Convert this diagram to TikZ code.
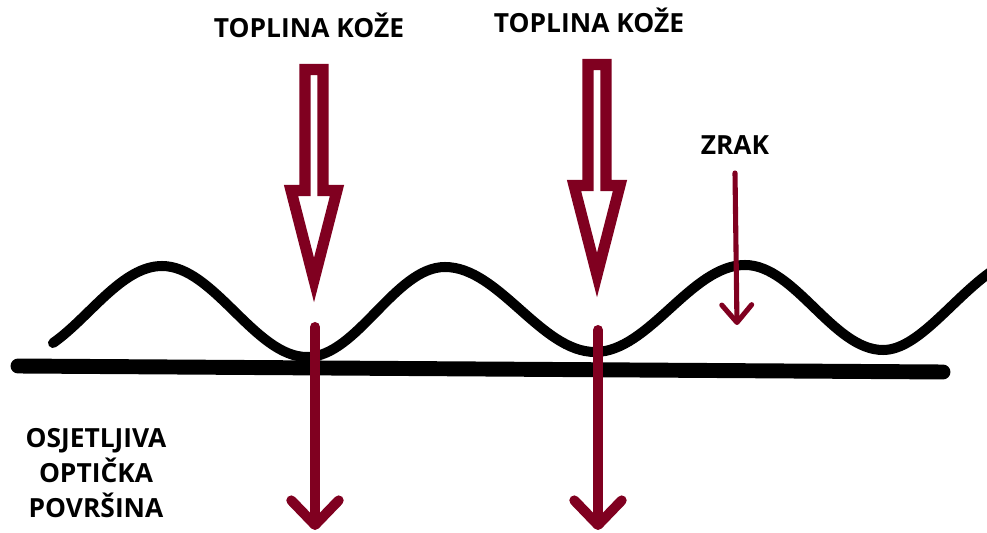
\documentclass[tikz,border=0pt]{standalone}
\usepackage{fontspec}
\setmainfont{Open Sans}
\usetikzlibrary{arrows.meta}

\definecolor{weinrot}{RGB}{128,0,32}

\tikzset{
  beschriftung/.style={font=\bfseries\fontsize{15}{19.9}\selectfont, inner sep=0pt},
  hohlpfeil/.style={draw=weinrot, fill=white, line width=6.3pt, miter limit=10},
  durchpfeil/.style={weinrot, line width=5.7pt, line cap=round,
    -{Straight Barb[length=14pt,width=27pt,round]}},
  luftpfeil/.style={weinrot, line width=2.9pt, line cap=round,
    -{Straight Barb[length=10pt,width=17pt,round]}}
}

\begin{document}
\begin{tikzpicture}[x=0.02cm, y=-0.02cm]
  \useasboundingbox (0,0) rectangle (987,533);

  % Oberflaeche und Welle
  \draw[line width=8.5pt, line cap=round] (18,366) -- (943,372);
  \draw[line width=5.7pt, line cap=round]
    (53,343) .. controls (89,318) and (122,266) .. (162,266)
    .. controls (214,266) and (255,357) .. (307,357)
    .. controls (357,357) and (395,267) .. (445,267)
    .. controls (499,267) and (541,352) .. (595,352)
    .. controls (649,352) and (691,265) .. (745,265)
    .. controls (795,265) and (833,350) .. (883,350)
    .. controls (918,350) and (952,299) .. (992,271);

  % Texte
  \node[beschriftung, anchor=base] (haut1) at (309,38) {TOPLINA KOŽE};
  \node[beschriftung, anchor=base] (haut2) at (589,33) {TOPLINA KOŽE};
  \node[beschriftung, anchor=base] (luft) at (735,155) {ZRAK};
  \node[beschriftung, align=center] (flaeche) at (96,473)
    {OSJETLJIVA\\OPTIČKA\\POVRŠINA};

  % Hohlpfeile
  \foreach \px/\py in {314/64, 597/59} {
    \begin{scope}[shift={(\px,\py)}]
      \draw[hohlpfeil] (-9,5.5) -- (9,5.5) -- (9,126.5) -- (23,126.5)
        -- (0,216) -- (-23,126.5) -- (-9,126.5) -- cycle;
    \end{scope}
  }

  % Pfeile durch die Flaeche
  \coordinate (d1a) at (315,327);
  \coordinate (d1b) at (315,530);
  \coordinate (d2a) at (598,330);
  \coordinate (d2b) at (598,530);
  \draw[durchpfeil] (d1a) -- (d1b);
  \draw[durchpfeil] (d2a) -- (d2b);

  \coordinate (l1) at (735,173);
  \coordinate (l2) at (737,325);
  \draw[luftpfeil] (l1) -- (l2);
\end{tikzpicture}
\end{document}
